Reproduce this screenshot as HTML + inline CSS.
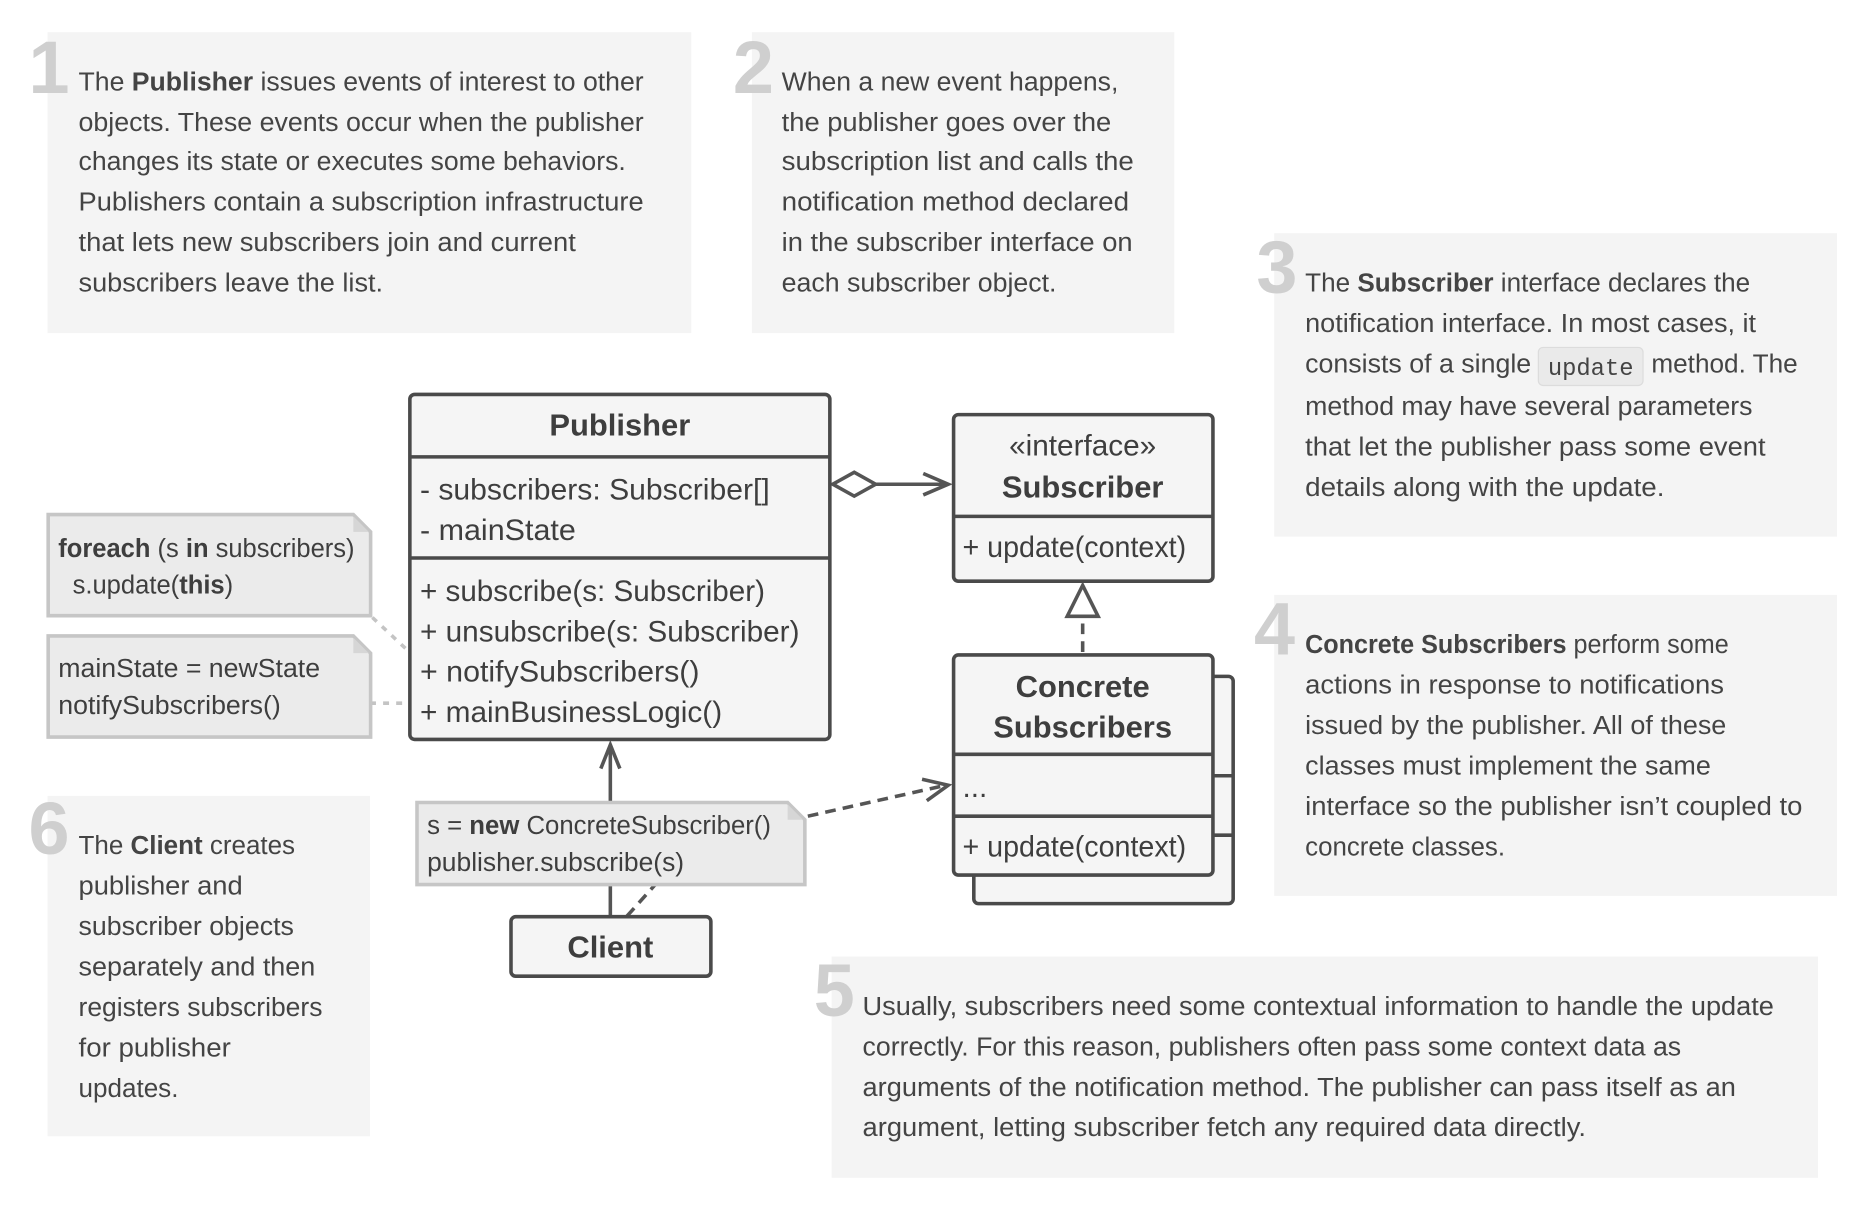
<!DOCTYPE html>
<html><head><meta charset="utf-8"><style>
html,body{margin:0;padding:0;background:#fff;}
svg{display:block;}
text{font-family:"Liberation Sans Narrow","Liberation Sans",sans-serif;fill:#444;}
.t{font-size:22px;}
.n{font-size:62px;font-weight:bold;fill:#cfcfcf;}
.u{font-size:25px;fill:#3e3e3e;}
.ub{font-size:26px;font-weight:bold;fill:#3e3e3e;}
.nt{font-size:22px;fill:#3e3e3e;}
</style></head><body>
<svg width="1856" height="1210" viewBox="0 0 1560 1017" xmlns="http://www.w3.org/2000/svg">
<!-- text boxes -->
<g fill="#f4f4f4">
<rect x="40" y="27" width="541" height="253"/>
<rect x="632" y="27" width="355" height="253"/>
<rect x="1071" y="196" width="473" height="255"/>
<rect x="1071" y="500" width="473" height="253"/>
<rect x="699" y="804" width="829" height="186"/>
<rect x="40" y="669" width="271" height="286"/>
</g>
<text class="n" x="24" y="78">1</text>
<text class="n" x="616" y="78">2</text>
<text class="n" x="1056" y="246">3</text>
<text class="n" x="1054" y="550">4</text>
<text class="n" x="684" y="854">5</text>
<text class="n" x="24" y="718">6</text>

<g class="t">
<text x="66" y="76" textLength="475" lengthAdjust="spacingAndGlyphs">The <tspan font-weight="bold">Publisher</tspan> issues events of interest to other</text>
<text x="66" y="110" textLength="475" lengthAdjust="spacingAndGlyphs">objects. These events occur when the publisher</text>
<text x="66" y="143" textLength="460" lengthAdjust="spacingAndGlyphs">changes its state or executes some behaviors.</text>
<text x="66" y="177" textLength="475" lengthAdjust="spacingAndGlyphs">Publishers contain a subscription infrastructure</text>
<text x="66" y="211" textLength="418" lengthAdjust="spacingAndGlyphs">that lets new subscribers join and current</text>
<text x="66" y="245" textLength="256" lengthAdjust="spacingAndGlyphs">subscribers leave the list.</text>

<text x="657" y="76" textLength="283" lengthAdjust="spacingAndGlyphs">When a new event happens,</text>
<text x="657" y="110" textLength="277" lengthAdjust="spacingAndGlyphs">the publisher goes over the</text>
<text x="657" y="143" textLength="296" lengthAdjust="spacingAndGlyphs">subscription list and calls the</text>
<text x="657" y="177" textLength="292" lengthAdjust="spacingAndGlyphs">notification method declared</text>
<text x="657" y="211" textLength="295" lengthAdjust="spacingAndGlyphs">in the subscriber interface on</text>
<text x="657" y="245" textLength="231" lengthAdjust="spacingAndGlyphs">each subscriber object.</text>

<text x="1097" y="245" textLength="374" lengthAdjust="spacingAndGlyphs">The <tspan font-weight="bold">Subscriber</tspan> interface declares the</text>
<text x="1097" y="279" textLength="379" lengthAdjust="spacingAndGlyphs">notification interface. In most cases, it</text>
<text x="1097" y="313" textLength="190" lengthAdjust="spacingAndGlyphs">consists of a single</text>
<text x="1388" y="313" textLength="123" lengthAdjust="spacingAndGlyphs">method. The</text>
<text x="1097" y="349" textLength="376" lengthAdjust="spacingAndGlyphs">method may have several parameters</text>
<text x="1097" y="383" textLength="387" lengthAdjust="spacingAndGlyphs">that let the publisher pass some event</text>
<text x="1097" y="417" textLength="302" lengthAdjust="spacingAndGlyphs">details along with the update.</text>

<text x="1097" y="549" textLength="356" lengthAdjust="spacingAndGlyphs"><tspan font-weight="bold">Concrete Subscribers</tspan> perform some</text>
<text x="1097" y="583" textLength="352" lengthAdjust="spacingAndGlyphs">actions in response to notifications</text>
<text x="1097" y="617" textLength="354" lengthAdjust="spacingAndGlyphs">issued by the publisher. All of these</text>
<text x="1097" y="651" textLength="341" lengthAdjust="spacingAndGlyphs">classes must implement the same</text>
<text x="1097" y="685" textLength="418" lengthAdjust="spacingAndGlyphs">interface so the publisher isn’t coupled to</text>
<text x="1097" y="719" textLength="168" lengthAdjust="spacingAndGlyphs">concrete classes.</text>

<text x="725" y="853" textLength="766" lengthAdjust="spacingAndGlyphs">Usually, subscribers need some contextual information to handle the update</text>
<text x="725" y="887" textLength="688" lengthAdjust="spacingAndGlyphs">correctly. For this reason, publishers often pass some context data as</text>
<text x="725" y="921" textLength="734" lengthAdjust="spacingAndGlyphs">arguments of the notification method. The publisher can pass itself as an</text>
<text x="725" y="955" textLength="608" lengthAdjust="spacingAndGlyphs">argument, letting subscriber fetch any required data directly.</text>

<text x="66" y="718" textLength="182" lengthAdjust="spacingAndGlyphs">The <tspan font-weight="bold">Client</tspan> creates</text>
<text x="66" y="752" textLength="138" lengthAdjust="spacingAndGlyphs">publisher and</text>
<text x="66" y="786" textLength="181" lengthAdjust="spacingAndGlyphs">subscriber objects</text>
<text x="66" y="820" textLength="199" lengthAdjust="spacingAndGlyphs">separately and then</text>
<text x="66" y="854" textLength="205" lengthAdjust="spacingAndGlyphs">registers subscribers</text>
<text x="66" y="888" textLength="128" lengthAdjust="spacingAndGlyphs">for publisher</text>
<text x="66" y="922" textLength="84" lengthAdjust="spacingAndGlyphs">updates.</text>
</g>
<rect x="1293" y="292" width="88" height="32" rx="4" fill="#eaeaea" stroke="#dcdcdc" stroke-width="1"/>
<text x="1301" y="315" style="font-family:'Liberation Mono',monospace;font-size:20px" textLength="72" lengthAdjust="spacingAndGlyphs">update</text>

<!-- connectors -->
<g stroke="#c4c4c4" stroke-width="3" stroke-dasharray="5,6" fill="none">
<line x1="313" y1="519" x2="343" y2="547"/>
<line x1="311" y1="591" x2="344" y2="591"/>
</g>
<g stroke="#555" stroke-width="3" fill="none">
<line x1="513" y1="770" x2="513" y2="626"/>
<polyline points="505,646 513,626 521,646"/>
<line x1="736" y1="407" x2="796" y2="407"/>
<polyline points="776,398 797,407 776,416"/>
<polygon points="700,407 718,397 736,407 718,417" fill="#fff"/>
<line x1="910" y1="548" x2="910" y2="518" stroke-dasharray="9,6"/>
<polygon points="910,492 897,518 923,518" fill="#fff"/>
<line x1="679" y1="686" x2="795" y2="660" stroke-dasharray="9,6"/>
<polyline points="775,655 797,660 779,673"/>
<line x1="527" y1="770" x2="553" y2="741" stroke-dasharray="9,6"/>
</g>

<!-- Publisher -->
<g stroke="#4a4a4a" stroke-width="3" fill="#f5f5f5">
<rect x="344.5" y="331.5" width="353" height="290" rx="4"/>
<line x1="344" y1="384" x2="698" y2="384"/>
<line x1="344" y1="469" x2="698" y2="469"/>
<rect x="801.5" y="348.5" width="218" height="140" rx="4"/>
<line x1="801" y1="434" x2="1019" y2="434"/>
<rect x="818.5" y="568.5" width="218" height="191" rx="4"/>
<line x1="1019" y1="652" x2="1036" y2="652"/>
<line x1="1019" y1="702" x2="1036" y2="702"/>
<rect x="801.5" y="550.5" width="218" height="185" rx="4"/>
<line x1="801" y1="634" x2="1019" y2="634"/>
<line x1="801" y1="686" x2="1019" y2="686"/>
<rect x="429.5" y="770.5" width="168" height="50" rx="4"/>
</g>
<text class="ub" x="521" y="366" text-anchor="middle">Publisher</text>
<text class="u" x="353" y="420" textLength="294" lengthAdjust="spacingAndGlyphs">- subscribers: Subscriber[]</text>
<text class="u" x="353" y="454" textLength="131" lengthAdjust="spacingAndGlyphs">- mainState</text>
<text class="u" x="353" y="505" textLength="290" lengthAdjust="spacingAndGlyphs">+ subscribe(s: Subscriber)</text>
<text class="u" x="353" y="539" textLength="319" lengthAdjust="spacingAndGlyphs">+ unsubscribe(s: Subscriber)</text>
<text class="u" x="353" y="573" textLength="235" lengthAdjust="spacingAndGlyphs">+ notifySubscribers()</text>
<text class="u" x="353" y="607" textLength="254" lengthAdjust="spacingAndGlyphs">+ mainBusinessLogic()</text>

<text class="u" x="910" y="383" text-anchor="middle">«interface»</text>
<text class="ub" x="910" y="418" text-anchor="middle">Subscriber</text>
<text class="u" x="809" y="468" textLength="188" lengthAdjust="spacingAndGlyphs">+ update(context)</text>

<text class="ub" x="910" y="586" text-anchor="middle">Concrete</text>
<text class="ub" x="910" y="620" text-anchor="middle">Subscribers</text>
<text class="u" x="809" y="670">...</text>
<text class="u" x="809" y="720" textLength="188" lengthAdjust="spacingAndGlyphs">+ update(context)</text>

<text class="ub" x="513" y="805" text-anchor="middle">Client</text>

<!-- notes -->
<g stroke="#c6c6c6" stroke-width="3" fill="#ebebeb">
<path d="M40.5,432.5 H297 L311.5,447 V517.5 H40.5 Z"/>
<path d="M40.5,534.5 H297 L311.5,549 V619.5 H40.5 Z"/>
<path d="M350.5,674.5 H662 L676.5,689 V743.5 H350.5 Z"/>
</g>
<g fill="#d6d6d6"><path d="M297,434 L310,447 H297 Z"/><path d="M297,536 L310,549 H297 Z"/><path d="M662,676 L675,689 H662 Z"/></g>
<text class="nt" x="49" y="468" textLength="249" lengthAdjust="spacingAndGlyphs"><tspan font-weight="bold">foreach</tspan> (s <tspan font-weight="bold">in</tspan> subscribers)</text>
<text class="nt" x="61" y="499" textLength="135" lengthAdjust="spacingAndGlyphs">s.update(<tspan font-weight="bold">this</tspan>)</text>
<text class="nt" x="49" y="569" textLength="220" lengthAdjust="spacingAndGlyphs">mainState = newState</text>
<text class="nt" x="49" y="600" textLength="187" lengthAdjust="spacingAndGlyphs">notifySubscribers()</text>
<text class="nt" x="359" y="701" textLength="289" lengthAdjust="spacingAndGlyphs">s = <tspan font-weight="bold">new</tspan> ConcreteSubscriber()</text>
<text class="nt" x="359" y="732" textLength="216" lengthAdjust="spacingAndGlyphs">publisher.subscribe(s)</text>
</svg>
</body></html>
